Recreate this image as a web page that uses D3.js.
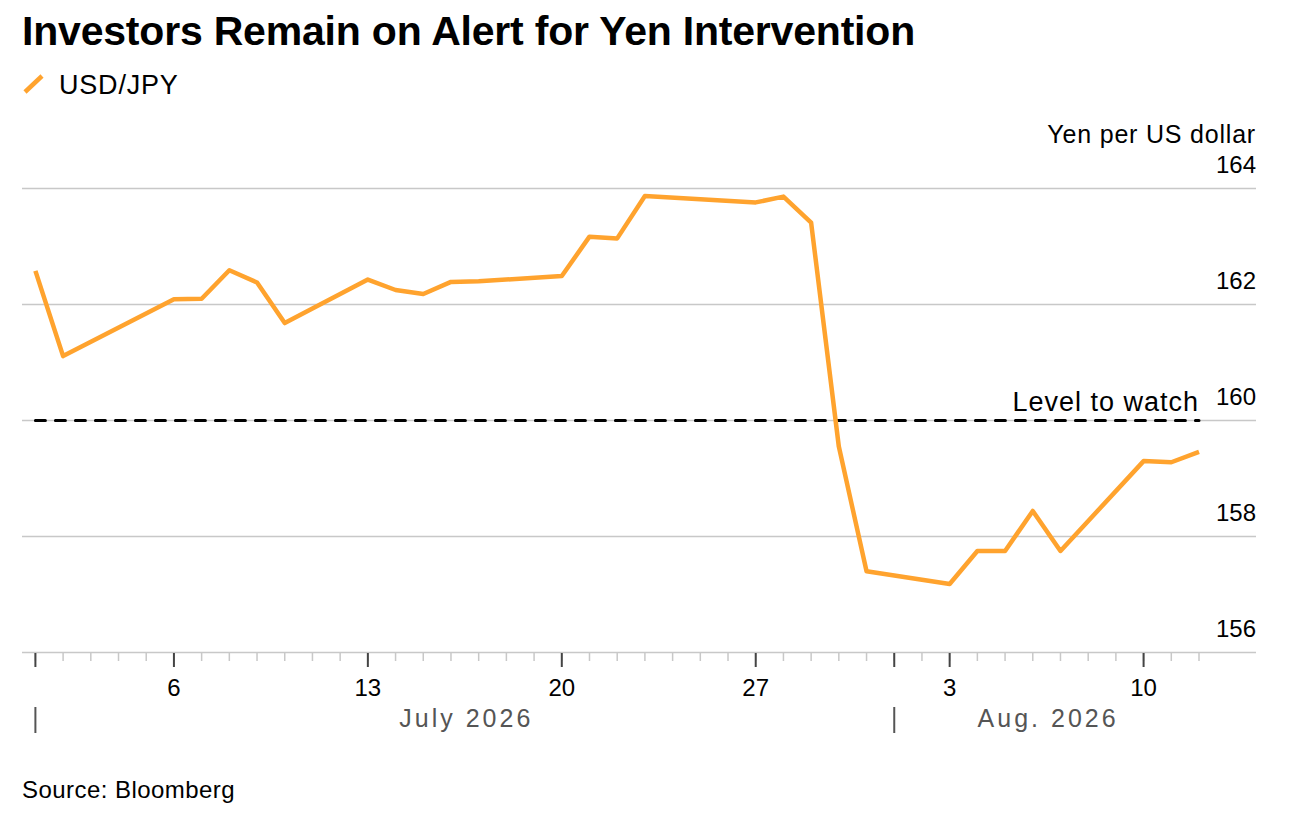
<!DOCTYPE html>
<html>
<head>
<meta charset="utf-8">
<script src="https://cdn.jsdelivr.net/npm/d3@7"></script>
<style>
  body { margin: 0; background: #fff; }
  text { font-family: "Liberation Sans", Arial, sans-serif; }
</style>
</head>
<body>
<div id="chart"></div>
<script>
// USD/JPY daily closes
var dates = ["2026-07-01","2026-07-02","2026-07-06","2026-07-07","2026-07-08","2026-07-09","2026-07-10",
  "2026-07-13","2026-07-14","2026-07-15","2026-07-16","2026-07-17",
  "2026-07-20","2026-07-21","2026-07-22","2026-07-23",
  "2026-07-27","2026-07-28","2026-07-29","2026-07-30","2026-07-31",
  "2026-08-03","2026-08-04","2026-08-05","2026-08-06","2026-08-07",
  "2026-08-10","2026-08-11","2026-08-12"];
var usdjpy = [162.58, 161.11, 162.09, 162.10, 162.59, 162.38, 161.68,
  162.43, 162.25, 162.18, 162.39, 162.40,
  162.49, 163.17, 163.14, 163.87,
  163.76, 163.86, 163.41, 159.55, 157.40,
  157.18, 157.75, 157.75, 158.44, 157.75,
  159.30, 159.28, 159.46];
var yTicks = [156, 158, 160, 162, 164];
var watchLevel = 160;
var months = [{label: "July 2026", start: "2026-07-01"}, {label: "Aug. 2026", start: "2026-08-01"}];

var svgWidth = 1290;
var svgHeight = 824;
var parse = d3.timeParse("%Y-%m-%d");

var data = dates.map(function(d, i) { return {date: parse(d), value: usdjpy[i]}; });
var firstDay = parse(dates[0]), lastDay = parse(dates[dates.length - 1]);

var svg = d3.select("#chart").append("svg").attr("width", svgWidth).attr("height", svgHeight);

var x = d3.scaleTime().domain([firstDay, lastDay]).range([35.4, 1199]);
var y = d3.scaleLinear().domain([156, 164]).range([652.5, 188.5]);
var gridLeft = 22, gridRight = 1256;

// title + legend
svg.append("text").attr("x", 22).attr("y", 45)
  .style("font-size", "41px").style("font-weight", "bold").style("letter-spacing", "-0.2px")
  .text("Investors Remain on Alert for Yen Intervention");
svg.append("line").attr("x1", 25).attr("y1", 92).attr("x2", 42).attr("y2", 76)
  .attr("stroke", "#ffa32e").attr("stroke-width", 4.5);
svg.append("text").attr("x", 59).attr("y", 94)
  .style("font-size", "27px").style("letter-spacing", "0.8px").text("USD/JPY");

// gridlines
svg.append("g").selectAll("line").data(yTicks).enter().append("line")
  .attr("x1", gridLeft).attr("x2", gridRight)
  .attr("y1", function(d) { return y(d); }).attr("y2", function(d) { return y(d); })
  .attr("stroke", "#c8c8c8").attr("stroke-width", 1.5);

// y labels on the right
svg.append("g").selectAll("text").data(yTicks).enter().append("text")
  .attr("x", gridRight).attr("y", function(d) { return y(d) - 16; })
  .attr("text-anchor", "end").style("font-size", "24px").text(function(d) { return d; });
svg.append("text").attr("x", gridRight).attr("y", 143).attr("text-anchor", "end")
  .style("font-size", "25px").style("letter-spacing", "0.8px").text("Yen per US dollar");

// x axis ticks
var days = d3.timeDay.range(firstDay, d3.timeDay.offset(lastDay, 1));
var majors = days.filter(function(d) { return d.getDay() === 1; });
svg.append("g").selectAll("line").data(days).enter().append("line")
  .attr("x1", function(d) { return x(d); }).attr("x2", function(d) { return x(d); })
  .attr("y1", 653).attr("y2", 661)
  .attr("stroke", "#c8c8c8").attr("stroke-width", 1.5);
var majorAndMonth = majors.concat(months.map(function(m) { return parse(m.start); }));
svg.append("g").selectAll("line").data(majorAndMonth).enter().append("line")
  .attr("x1", function(d) { return x(d); }).attr("x2", function(d) { return x(d); })
  .attr("y1", 653).attr("y2", 667)
  .attr("stroke", "#444").attr("stroke-width", 2);
svg.append("g").selectAll("text").data(majors).enter().append("text")
  .attr("x", function(d) { return x(d); }).attr("y", 696)
  .attr("text-anchor", "middle").style("font-size", "24px")
  .text(function(d) { return d3.timeFormat("%-d")(d); });

// month labels and separators
svg.append("g").selectAll("line").data(months).enter().append("line")
  .attr("x1", function(d) { return x(parse(d.start)); }).attr("x2", function(d) { return x(parse(d.start)); })
  .attr("y1", 707).attr("y2", 733).attr("stroke", "#555").attr("stroke-width", 2);
var monthEnds = [parse("2026-08-01"), lastDay];
svg.append("g").selectAll("text").data(months).enter().append("text")
  .attr("x", function(d, i) { return (x(parse(d.start)) + x(monthEnds[i])) / 2 + 1.5; })
  .attr("y", 727).attr("text-anchor", "middle")
  .style("font-size", "25px").style("letter-spacing", "3px").attr("fill", "#555")
  .text(function(d) { return d.label; });

// level to watch
svg.append("line").attr("x1", x(firstDay)).attr("x2", x(lastDay))
  .attr("y1", y(watchLevel)).attr("y2", y(watchLevel))
  .attr("stroke", "#000").attr("stroke-width", 3).attr("stroke-dasharray", "10,10")
  .attr("stroke-linecap", "round");
svg.append("text").attr("x", x(lastDay)).attr("y", y(watchLevel) - 10)
  .attr("text-anchor", "end").style("font-size", "27px").style("letter-spacing", "1px")
  .text("Level to watch");

// the line
var line = d3.line().x(function(d) { return x(d.date); }).y(function(d) { return y(d.value); });
svg.append("path").datum(data).attr("d", line)
  .attr("fill", "none").attr("stroke", "#ffa32e").attr("stroke-width", 4.5)
  .attr("stroke-linejoin", "round");

// source
svg.append("text").attr("x", 22).attr("y", 798)
  .style("font-size", "24px").style("letter-spacing", "0.45px").text("Source: Bloomberg");
</script>
</body>
</html>
